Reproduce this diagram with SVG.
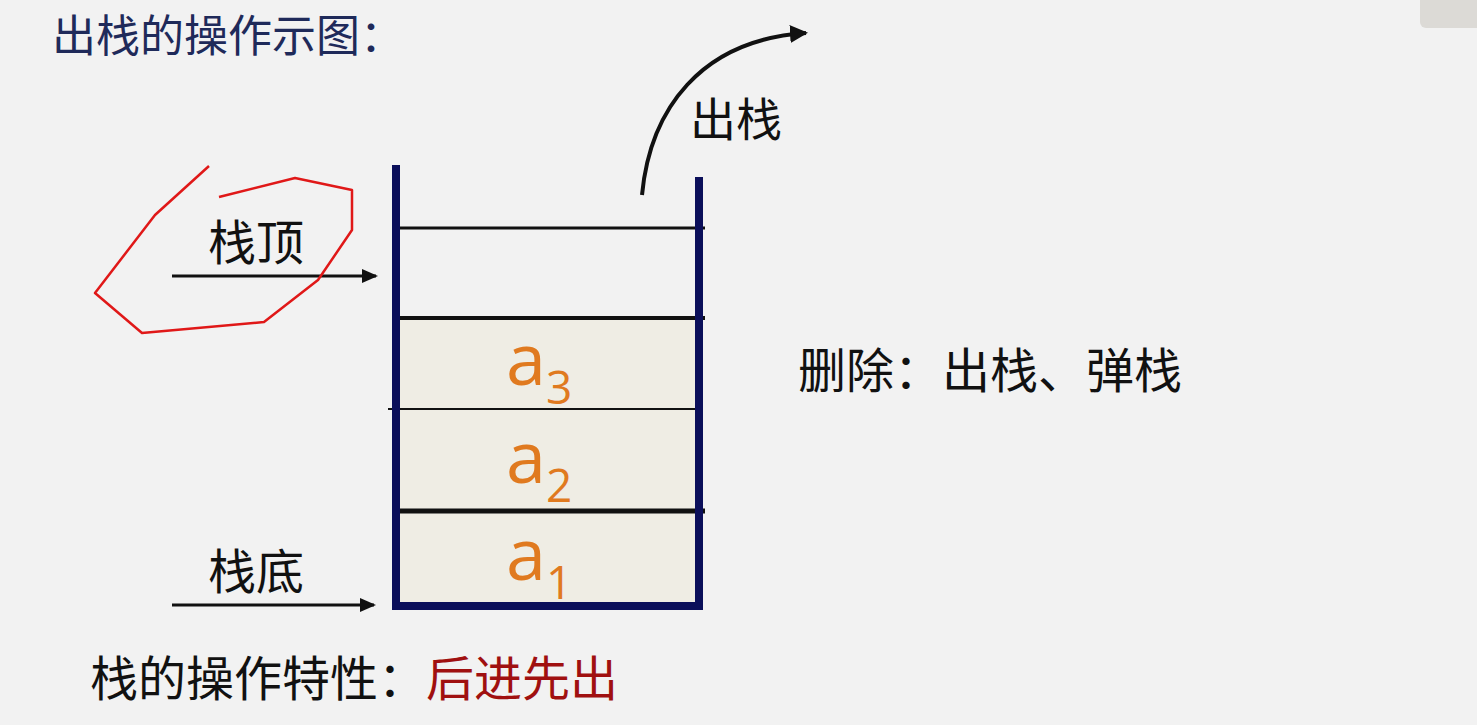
<svg xmlns="http://www.w3.org/2000/svg" width="1477" height="725" viewBox="0 0 1477 725">
<style>
.t{font-family:"Noto Sans CJK SC","Noto Sans",sans-serif;fill:#111}
.a{font-family:"Open Sans","Noto Sans",sans-serif;fill:#e07a1f;font-size:72px}
.s{font-size:46px}
.ln{stroke:#111;stroke-width:3}
.wall{stroke:#0b0f5a;stroke-width:8}
</style>
<defs><marker id="ah" markerWidth="16" markerHeight="14" refX="14" refY="7" orient="auto" markerUnits="userSpaceOnUse"><path d="M0,0 L16,7 L0,14 Z" fill="#111"/></marker>
<marker id="ah2" markerWidth="20" markerHeight="18" refX="16" refY="9" orient="auto" markerUnits="userSpaceOnUse"><path d="M0,0 L18,9 L0,18 Z" fill="#111"/></marker></defs>
<rect width="1477" height="725" fill="#f2f2f2"/>
<rect x="1420" y="-5" width="70" height="33" rx="6" fill="#dcdad6"/>
<text class="t" x="52" y="52" font-size="44" style="fill:#1f2a5a">出栈的操作示图：</text>
<g id="stack">
<rect x="397" y="316" width="299" height="290" fill="#efede4"/>
<line class="ln" x1="398" y1="228" x2="705" y2="228"/>
<line class="ln" x1="398" y1="318" x2="705" y2="318" style="stroke-width:4"/>
<line class="ln" x1="388" y1="409" x2="695" y2="409" style="stroke-width:2"/>
<line class="ln" x1="398" y1="511" x2="705" y2="511" style="stroke-width:5"/>
<line class="wall" x1="396" y1="165" x2="396" y2="610"/>
<line class="wall" x1="699" y1="177" x2="699" y2="610"/>
<line class="wall" x1="392" y1="606" x2="703" y2="606"/>
</g>
<g id="cells">
<text class="a" x="506" y="385">a<tspan class="s" dy="19">3</tspan></text>
<text class="a" x="506" y="483">a<tspan class="s" dy="19">2</tspan></text>
<text class="a" x="506" y="580">a<tspan class="s" dy="19">1</tspan></text>
</g>
<g id="labels">
<text class="t" x="690" y="136" font-size="46">出栈</text>
<text class="t" x="208" y="260" font-size="48">栈顶</text>
<text class="t" x="208" y="589" font-size="48">栈底</text>
<text class="t" x="798" y="388" font-size="48">删除：出栈、弹栈</text>
<text class="t" x="90" y="696" font-size="48">栈的操作特性：<tspan style="fill:#a01010">后进先出</tspan></text>
</g>
<g id="connectors" fill="none">
<line class="ln" x1="172" y1="276" x2="376" y2="276" marker-end="url(#ah)"/>
<line class="ln" x1="172" y1="605" x2="374" y2="605" marker-end="url(#ah)"/>
<path d="M642,195 C650,110 700,40 806,33" stroke="#111" stroke-width="4" marker-end="url(#ah2)"/>
</g>
<path d="M209,166 L155,215 L95,293 L142,333 L264,322 L318,280 L352,230 L352,190 L295,178 L219,197" fill="none" stroke="#e01818" stroke-width="2.5" stroke-linejoin="round"/>
</svg>
